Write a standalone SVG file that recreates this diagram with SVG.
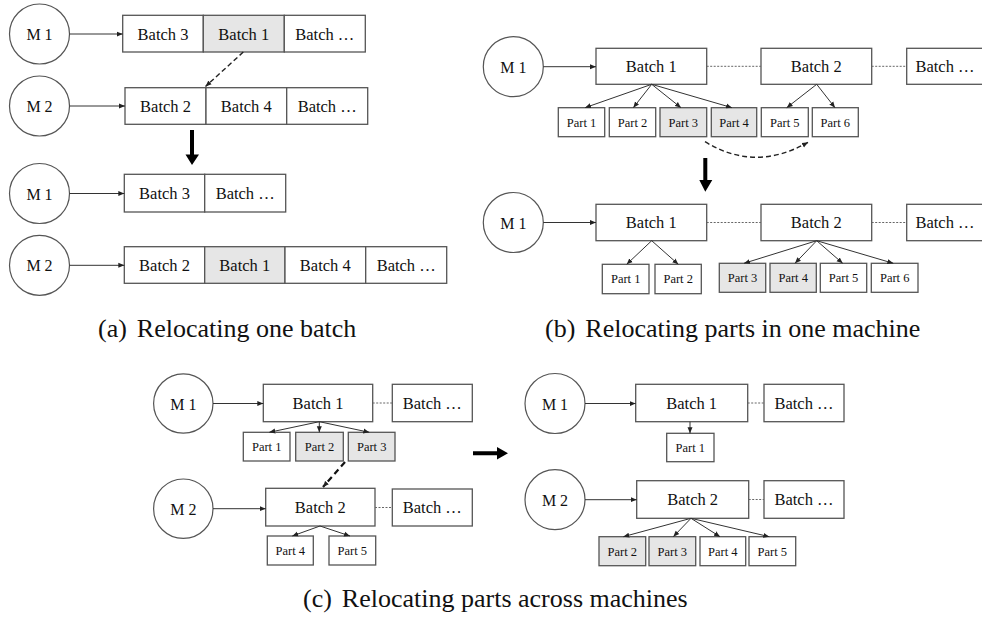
<svg xmlns="http://www.w3.org/2000/svg" width="982" height="617" viewBox="0 0 982 617" font-family="Liberation Serif, Tinos, Times New Roman, DejaVu Serif, serif">
<style>
.box{fill:#fff;stroke:#555;stroke-width:1.3}
.gray{fill:#e6e6e6}
.circ{fill:#fff;stroke:#555;stroke-width:1.2}
text{font-family:'Liberation Serif','DejaVu Serif',serif}
.t{fill:#111;text-anchor:middle}
.bt{font-size:16.5px}
.mt{font-size:16px}
.pt{font-size:12.5px}
.cap{fill:#111;font-size:26px}
.ln{stroke:#333;stroke-width:1;fill:none}
.dot{stroke:#666;stroke-width:1;stroke-dasharray:2,1.5;fill:none}
.dash{stroke:#222;stroke-width:1.4;stroke-dasharray:5,3;fill:none}
.dashb{stroke:#111;stroke-width:2.2;stroke-dasharray:6,4;fill:none}
.bold{fill:#000}
</style>
<defs>
<marker id="ah" markerUnits="userSpaceOnUse" markerWidth="7" markerHeight="6" refX="6" refY="3" orient="auto">
<path d="M0,0.5 L6,3 L0,5.5 z" fill="#222"/>
</marker>
</defs>

<!-- Panel (a) -->
<g id="a-m1-top"><circle class="circ" cx="39.5" cy="34" r="30"/><text class="t mt" x="39.5" y="40">M 1</text></g>
<g id="a-row1">
<rect class="box" x="122.7" y="15.3" width="80.6" height="36.7"/><text class="t bt" x="163" y="39.5">Batch 3</text>
<rect class="box gray" x="203.3" y="15.3" width="81" height="36.7"/><text class="t bt" x="243.8" y="39.5">Batch 1</text>
<rect class="box" x="284.3" y="15.3" width="81" height="36.7"/><text class="t bt" x="324.8" y="39.5">Batch …</text>
</g>
<g id="a-m2-top"><circle class="circ" cx="39.5" cy="106" r="30"/><text class="t mt" x="39.5" y="112">M 2</text></g>
<g id="a-row2">
<rect class="box" x="125" y="87.7" width="81" height="36.6"/><text class="t bt" x="165.5" y="111.8">Batch 2</text>
<rect class="box" x="206" y="87.7" width="80.7" height="36.6"/><text class="t bt" x="246.3" y="111.8">Batch 4</text>
<rect class="box" x="286.7" y="87.7" width="81" height="36.6"/><text class="t bt" x="327.2" y="111.8">Batch …</text>
</g>
<g id="a-m1-bot"><circle class="circ" cx="39.5" cy="193.5" r="30"/><text class="t mt" x="39.5" y="199.5">M 1</text></g>
<g id="a-row3">
<rect class="box" x="124.3" y="174.3" width="80.4" height="37.7"/><text class="t bt" x="164.5" y="199">Batch 3</text>
<rect class="box" x="204.7" y="174.3" width="81" height="37.7"/><text class="t bt" x="245.2" y="199">Batch …</text>
</g>
<g id="a-m2-bot"><circle class="circ" cx="39.5" cy="265.3" r="30"/><text class="t mt" x="39.5" y="271.3">M 2</text></g>
<g id="a-row4">
<rect class="box" x="124.3" y="246.7" width="80.4" height="36.6"/><text class="t bt" x="164.5" y="270.8">Batch 2</text>
<rect class="box gray" x="204.7" y="246.7" width="80.3" height="36.6"/><text class="t bt" x="244.8" y="270.8">Batch 1</text>
<rect class="box" x="285" y="246.7" width="80.7" height="36.6"/><text class="t bt" x="325.3" y="270.8">Batch 4</text>
<rect class="box" x="365.7" y="246.7" width="81" height="36.6"/><text class="t bt" x="406.2" y="270.8">Batch …</text>
</g>

<!-- Panel (b) -->
<g id="b-m1-top"><circle class="circ" cx="513.3" cy="66.7" r="30"/><text class="t mt" x="513.3" y="72.7">M 1</text></g>
<g id="b-batch1-top"><rect class="box" x="596" y="48.3" width="110.7" height="36"/><text class="t bt" x="651.3" y="72.2">Batch 1</text></g>
<g id="b-batch2-top"><rect class="box" x="761" y="48.3" width="110.7" height="36"/><text class="t bt" x="816.3" y="72.2">Batch 2</text></g>
<g id="b-batchx-top"><rect class="box" x="906.7" y="48.3" width="80" height="36"/><text class="t bt" x="945" y="72.2">Batch …</text></g>
<g id="b-parts-top">
<rect class="box" x="558.3" y="107.7" width="46.4" height="29"/><text class="t pt" x="581.5" y="126.5">Part 1</text>
<rect class="box" x="609.3" y="107.7" width="46.4" height="29"/><text class="t pt" x="632.5" y="126.5">Part 2</text>
<rect class="box gray" x="660" y="107.7" width="46.7" height="29"/><text class="t pt" x="683.3" y="126.5">Part 3</text>
<rect class="box gray" x="711.3" y="107.7" width="45.4" height="29"/><text class="t pt" x="734" y="126.5">Part 4</text>
<rect class="box" x="761.3" y="107.7" width="47" height="29"/><text class="t pt" x="784.8" y="126.5">Part 5</text>
<rect class="box" x="812.3" y="107.7" width="46" height="29"/><text class="t pt" x="835.3" y="126.5">Part 6</text>
</g>
<g id="b-m1-bot"><circle class="circ" cx="513.3" cy="222.5" r="30"/><text class="t mt" x="513.3" y="228.5">M 1</text></g>
<g id="b-batch1-bot"><rect class="box" x="596" y="204.3" width="110.7" height="36.4"/><text class="t bt" x="651.3" y="228.3">Batch 1</text></g>
<g id="b-batch2-bot"><rect class="box" x="761" y="204.3" width="110.7" height="36.4"/><text class="t bt" x="816.3" y="228.3">Batch 2</text></g>
<g id="b-batchx-bot"><rect class="box" x="906.7" y="204.3" width="80" height="36.4"/><text class="t bt" x="945" y="228.3">Batch …</text></g>
<g id="b-parts-bot">
<rect class="box" x="602.3" y="264.3" width="46.7" height="29.4"/><text class="t pt" x="625.7" y="283.3">Part 1</text>
<rect class="box" x="655" y="264.3" width="46.3" height="29.4"/><text class="t pt" x="678.2" y="283.3">Part 2</text>
<rect class="box gray" x="719.3" y="263.3" width="46.4" height="29"/><text class="t pt" x="742.5" y="282">Part 3</text>
<rect class="box gray" x="770" y="263.3" width="46.3" height="29"/><text class="t pt" x="793.2" y="282">Part 4</text>
<rect class="box" x="820.3" y="263.3" width="46.4" height="29"/><text class="t pt" x="843.5" y="282">Part 5</text>
<rect class="box" x="871.3" y="263.3" width="46.7" height="29"/><text class="t pt" x="894.7" y="282">Part 6</text>
</g>

<!-- Panel (c) left -->
<g id="c-m1-l"><circle class="circ" cx="183.3" cy="403.5" r="29.7"/><text class="t mt" x="183.3" y="409.5">M 1</text></g>
<g id="c-batch1-l"><rect class="box" x="263.3" y="384.3" width="109.4" height="37.4"/><text class="t bt" x="318" y="408.8">Batch 1</text></g>
<g id="c-batchx1-l"><rect class="box" x="392.3" y="384.3" width="80" height="37.4"/><text class="t bt" x="432.3" y="408.8">Batch …</text></g>
<g id="c-parts1-l">
<rect class="box" x="243.3" y="432.3" width="46.7" height="28.7"/><text class="t pt" x="266.7" y="451">Part 1</text>
<rect class="box gray" x="295.7" y="432.3" width="47.6" height="28.7"/><text class="t pt" x="319.5" y="451">Part 2</text>
<rect class="box gray" x="348.3" y="432.3" width="46.7" height="28.7"/><text class="t pt" x="371.7" y="451">Part 3</text>
</g>
<g id="c-m2-l"><circle class="circ" cx="183.3" cy="508.7" r="29.7"/><text class="t mt" x="183.3" y="514.7">M 2</text></g>
<g id="c-batch2-l"><rect class="box" x="265.7" y="488.3" width="109.3" height="37.7"/><text class="t bt" x="320.3" y="513">Batch 2</text></g>
<g id="c-batchx2-l"><rect class="box" x="392.3" y="489" width="80" height="37"/><text class="t bt" x="432.3" y="513">Batch …</text></g>
<g id="c-parts2-l">
<rect class="box" x="267.3" y="536" width="46" height="29"/><text class="t pt" x="290.3" y="554.8">Part 4</text>
<rect class="box" x="329" y="536" width="46.7" height="29"/><text class="t pt" x="352.3" y="554.8">Part 5</text>
</g>

<!-- Panel (c) right -->
<g id="c-m1-r"><circle class="circ" cx="555" cy="403.5" r="30"/><text class="t mt" x="555" y="409.5">M 1</text></g>
<g id="c-batch1-r"><rect class="box" x="635.7" y="384.3" width="112" height="37.4"/><text class="t bt" x="691.7" y="408.8">Batch 1</text></g>
<g id="c-batchx1-r"><rect class="box" x="764" y="384.3" width="80" height="37.4"/><text class="t bt" x="804" y="408.8">Batch …</text></g>
<g id="c-parts1-r">
<rect class="box" x="666.7" y="433.3" width="47.3" height="28.4"/><text class="t pt" x="690.3" y="451.8">Part 1</text>
</g>
<g id="c-m2-r"><circle class="circ" cx="555" cy="499.7" r="30"/><text class="t mt" x="555" y="505.7">M 2</text></g>
<g id="c-batch2-r"><rect class="box" x="636.7" y="480.7" width="112" height="37.6"/><text class="t bt" x="692.7" y="505.3">Batch 2</text></g>
<g id="c-batchx2-r"><rect class="box" x="764" y="480.7" width="80" height="37.6"/><text class="t bt" x="804" y="505.3">Batch …</text></g>
<g id="c-parts2-r">
<rect class="box gray" x="599" y="536.7" width="46.7" height="29"/><text class="t pt" x="622.3" y="555.5">Part 2</text>
<rect class="box gray" x="649" y="536.7" width="46.7" height="29"/><text class="t pt" x="672.3" y="555.5">Part 3</text>
<rect class="box" x="700" y="536.7" width="45.7" height="29"/><text class="t pt" x="722.8" y="555.5">Part 4</text>
<rect class="box" x="749" y="536.7" width="46.7" height="29"/><text class="t pt" x="772.3" y="555.5">Part 5</text>
</g>

<!-- Connectors -->
<g id="connectors">
<path class="ln" d="M69.5,34 H122.7" marker-end="url(#ah)"/>
<path class="ln" d="M69.5,106 H125" marker-end="url(#ah)"/>
<path class="ln" d="M69.5,193.5 H124.3" marker-end="url(#ah)"/>
<path class="ln" d="M69.5,265.3 H124.3" marker-end="url(#ah)"/>
<path class="dash" d="M243.3,52 L205.5,86.5" marker-end="url(#ah)"/>
<polygon class="bold" points="190,130 194,130 194,154.5 199,154.5 192,165 185.5,154.5 190,154.5"/>
<path class="ln" d="M543.3,66.7 H596" marker-end="url(#ah)"/>
<path class="dot" d="M706.7,66.3 H761 M871.7,66.3 H906.7"/>
<path class="ln" d="M651.7,84.3 L585,107.7" marker-end="url(#ah)"/>
<path class="ln" d="M651.7,84.3 L633.3,107.7" marker-end="url(#ah)"/>
<path class="ln" d="M651.7,84.3 L681,107.7" marker-end="url(#ah)"/>
<path class="ln" d="M651.7,84.3 L732,107.7" marker-end="url(#ah)"/>
<path class="ln" d="M816.7,84.3 L786.7,107.7" marker-end="url(#ah)"/>
<path class="ln" d="M816.7,84.3 L835,107.7" marker-end="url(#ah)"/>
<path class="dash" d="M705,141.7 Q755,172.5 808,142.3" marker-end="url(#ah)"/>
<polygon class="bold" points="703.3,158 707.3,158 707.3,180 712.3,180 705.3,191.7 699.3,180 703.3,180"/>
<path class="ln" d="M543.3,222.5 H596" marker-end="url(#ah)"/>
<path class="dot" d="M706.7,222.5 H761 M871.7,222.5 H906.7"/>
<path class="ln" d="M651.7,240.7 L626.7,264.3" marker-end="url(#ah)"/>
<path class="ln" d="M651.7,240.7 L678.3,264.3" marker-end="url(#ah)"/>
<path class="ln" d="M816.7,240.7 L744,263.3" marker-end="url(#ah)"/>
<path class="ln" d="M816.7,240.7 L795,263.3" marker-end="url(#ah)"/>
<path class="ln" d="M816.7,240.7 L842.7,263.3" marker-end="url(#ah)"/>
<path class="ln" d="M816.7,240.7 L893.3,263.3" marker-end="url(#ah)"/>
<path class="ln" d="M213,403.5 H263.3" marker-end="url(#ah)"/>
<path class="dot" d="M372.7,403 H392.3"/>
<path class="ln" d="M319.3,421.7 L269.3,432.3" marker-end="url(#ah)"/>
<path class="ln" d="M319.3,421.7 L319.3,432.3" marker-end="url(#ah)"/>
<path class="ln" d="M319.3,421.7 L369.3,432.3" marker-end="url(#ah)"/>
<path class="dashb" d="M345,462 L323,487" marker-end="url(#ah)"/>
<path class="ln" d="M213,508.7 H265.7" marker-end="url(#ah)"/>
<path class="dot" d="M375,507.5 H392.3"/>
<path class="ln" d="M320,526 L292.3,536" marker-end="url(#ah)"/>
<path class="ln" d="M320,526 L350,536" marker-end="url(#ah)"/>
<polygon class="bold" points="473,451.3 497,451.3 497,447 508,453.3 497,459.6 497,455.3 473,455.3"/>
<path class="ln" d="M585,403.5 H635.7" marker-end="url(#ah)"/>
<path class="dot" d="M747.7,403 H764"/>
<path class="ln" d="M690,421.7 L690,433.3" marker-end="url(#ah)"/>
<path class="ln" d="M585,499.7 H636.7" marker-end="url(#ah)"/>
<path class="dot" d="M748.7,499.5 H764"/>
<path class="ln" d="M691,518.3 L623.3,536.7" marker-end="url(#ah)"/>
<path class="ln" d="M691,518.3 L673.3,536.7" marker-end="url(#ah)"/>
<path class="ln" d="M691,518.3 L720,536.7" marker-end="url(#ah)"/>
<path class="ln" d="M691,518.3 L769.3,536.7" marker-end="url(#ah)"/>
</g>

<text class="cap" x="98" y="337">(a)<tspan dx="3.5"> Relocating one batch</tspan></text>
<text class="cap" x="545" y="337">(b)<tspan dx="3.5"> Relocating parts in one machine</tspan></text>
<text class="cap" x="303" y="607">(c)<tspan dx="3.5"> Relocating parts across machines</tspan></text>
</svg>
